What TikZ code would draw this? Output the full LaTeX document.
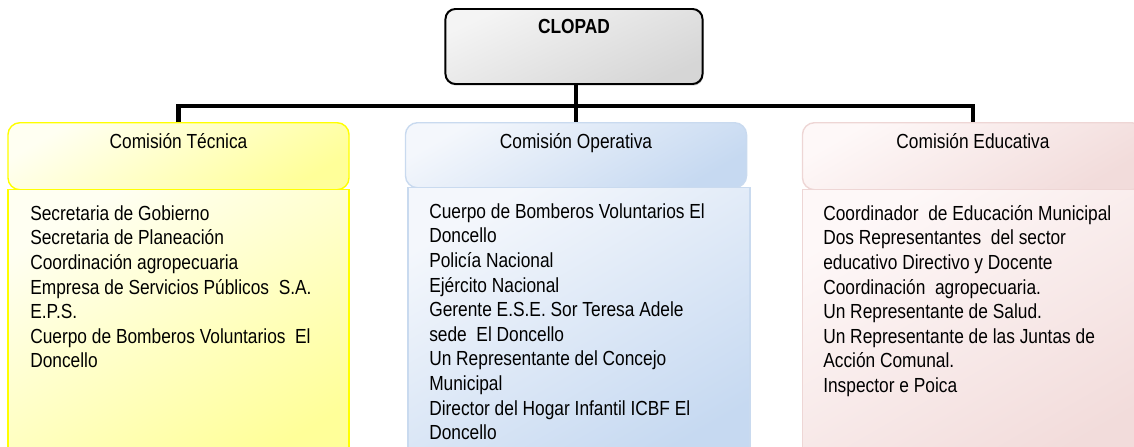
\documentclass[tikz,border=0pt]{standalone}
\usepackage{fontspec}
\setmainfont[FakeStretch=0.85]{Liberation Sans}
\usetikzlibrary{shadows}
\definecolor{grayA}{HTML}{F4F4F4}
\definecolor{grayB}{HTML}{D6D6D6}
\definecolor{yelA}{HTML}{FFFFF2}
\definecolor{yelB}{HTML}{FFFF99}
\definecolor{yelLine}{HTML}{FFFF00}
\definecolor{bluA}{HTML}{F4F7FC}
\definecolor{bluB}{HTML}{C6D9F1}
\definecolor{bluLine}{HTML}{C9DAEF}
\definecolor{pnkA}{HTML}{FEF8F8}
\definecolor{pnkB}{HTML}{F2DCDB}
\definecolor{pnkLine}{HTML}{EED6D5}
\tikzset{
  txt/.style={font=\fontsize{14.5}{17.5}\selectfont},
  conn/.style={line width=3.5pt, black},
  topbox/.style={draw=black, line width=1.4pt, rounded corners=0.25cm,
    top color=grayA, bottom color=grayB, shading angle=25,
    drop shadow={shadow xshift=0.6pt, shadow yshift=-1.2pt, opacity=0.35},
    inner sep=0pt, minimum width=6.425cm, text height=0.625cm, text depth=1.25cm,
    anchor=north, txt, font=\fontsize{14.5}{17.5}\selectfont\bfseries},
  head/.style={draw, line width=1pt, rounded corners=0.3cm, inner sep=0pt,
    minimum width=8.525cm, text height=0.65cm, anchor=north, txt},
  bodybox/.style={draw, line width=1pt, minimum width=8.525cm,
    minimum height=7cm, anchor=north},
  yel/.style={draw=yelLine, top color=yelA, bottom color=yelB, shading angle=30},
  blu/.style={draw=bluLine, top color=bluA, bottom color=bluB, shading angle=30},
  pnk/.style={draw=pnkLine, top color=pnkA, bottom color=pnkB, shading angle=30},
  list/.style={txt, align=left, anchor=north west, inner sep=0pt},
}
\begin{document}
\begin{tikzpicture}[x=0.025cm, y=-0.025cm]
\useasboundingbox (0,0) rectangle (1134,447);
% top box
\node[topbox] (clopad) at (574,8) {CLOPAD};
% commissions
\node[head, yel, text depth=1.025cm] (ct) at (178.5,122) {Comisión Técnica};
\node[bodybox, yel] (cb) at (178.5,189) {};
\node[head, blu, text depth=0.975cm] (ot) at (576,122) {Comisión Operativa};
\node[bodybox, blu, minimum width=8.55cm] (ob) at (579,187) {};
\node[head, pnk, text depth=1.025cm] (et) at (973,122) {Comisión Educativa};
\node[bodybox, pnk] (eb) at (973,189) {};
% members (first baseline 17.2 below the node top)
\node[list] (ctl) at (30,202.8) {\strut Secretaria de Gobierno\\
  Secretaria de Planeación\\
  Coordinación agropecuaria\\
  Empresa de Servicios Públicos~ S.A.\\
  E.P.S.\\
  Cuerpo de Bomberos Voluntarios~ El\\
  Doncello};
\node[list] (otl) at (429,200.8) {\strut Cuerpo de Bomberos Voluntarios El\\
  Doncello\\
  Policía Nacional\\
  Ejército Nacional\\
  Gerente E.S.E. Sor Teresa Adele\\
  sede~ El Doncello\\
  Un Representante del Concejo\\
  Municipal\\
  Director del Hogar Infantil ICBF El\\
  Doncello};
\node[list] (etl) at (823,202.8) {\strut Coordinador~ de Educación Municipal\\
  Dos Representantes~ del sector\\
  educativo Directivo y Docente\\
  Coordinación~ agropecuaria.\\
  Un Representante de Salud.\\
  Un Representante de las Juntas de\\
  Acción Comunal.\\
  Inspector e Poica};
% connectors
\coordinate (bus) at (576,106);
\draw[conn] (clopad.south -| ot.north) -- (ot.north);
\draw[conn] (ct.north) |- (bus) -| (et.north);
\end{tikzpicture}
\end{document}
